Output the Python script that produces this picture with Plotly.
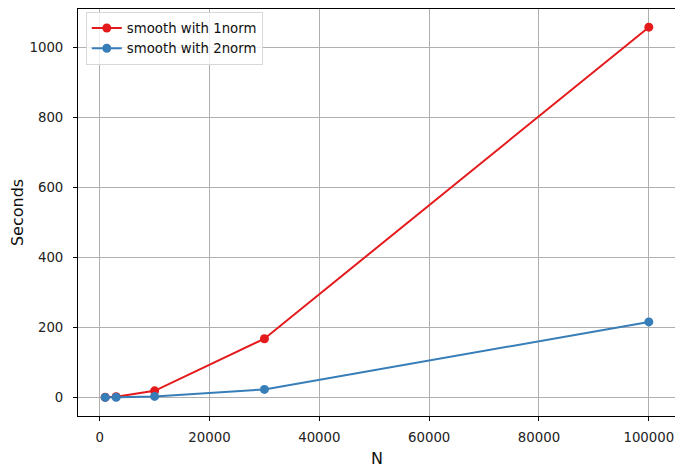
import plotly.graph_objects as go

n_values = [1000, 3000, 10000, 30000, 100000]
secs_1norm = [0.5, 2, 19, 168, 1059]
secs_2norm = [0.2, 0.5, 3, 23, 216]
x_ticks = [0, 20000, 40000, 60000, 80000, 100000]
y_ticks = [0, 200, 400, 600, 800, 1000]

fig = go.Figure()
fig.add_trace(go.Scatter(x=n_values, y=secs_1norm, mode="lines+markers",
                         name="smooth with 1norm",
                         line=dict(color="#e41a1c", width=2),
                         marker=dict(size=9, color="#e41a1c")))
fig.add_trace(go.Scatter(x=n_values, y=secs_2norm, mode="lines+markers",
                         name="smooth with 2norm",
                         line=dict(color="#377eb8", width=2),
                         marker=dict(size=9, color="#377eb8")))

ax = dict(showline=True, linecolor="black", linewidth=1, mirror=True,
          showgrid=True, gridcolor="#b0b0b0", gridwidth=1, zeroline=False,
          ticks="outside", ticklen=4, tickcolor="black", automargin=False,
          tickformat="d", tickfont=dict(size=13.3, color="#222"))

# page body adds 8px around the figure, so the figure is sized to fit
fig.update_layout(
    width=675, height=461,
    margin=dict(l=70, r=7, t=1, b=53, autoexpand=False),
    paper_bgcolor="white", plot_bgcolor="white",
    font=dict(family="DejaVu Sans", size=13.3, color="#111"),
    xaxis=dict(ax, range=[-3950, 104950], tickvals=x_ticks,
               ticklabelstandoff=5, title=dict(text="N", standoff=8)),
    yaxis=dict(ax, range=[-53, 1111], tickvals=y_ticks,
               ticklabelstandoff=7, title=dict(text="Seconds", standoff=11)),
    legend=dict(x=0.013, y=0.993, xanchor="left", yanchor="top",
                bgcolor="rgba(255,255,255,0.8)", bordercolor="#d8d8d8",
                borderwidth=1, tracegroupgap=0, font=dict(size=13.3)),
)

fig.write_html("out.html")
